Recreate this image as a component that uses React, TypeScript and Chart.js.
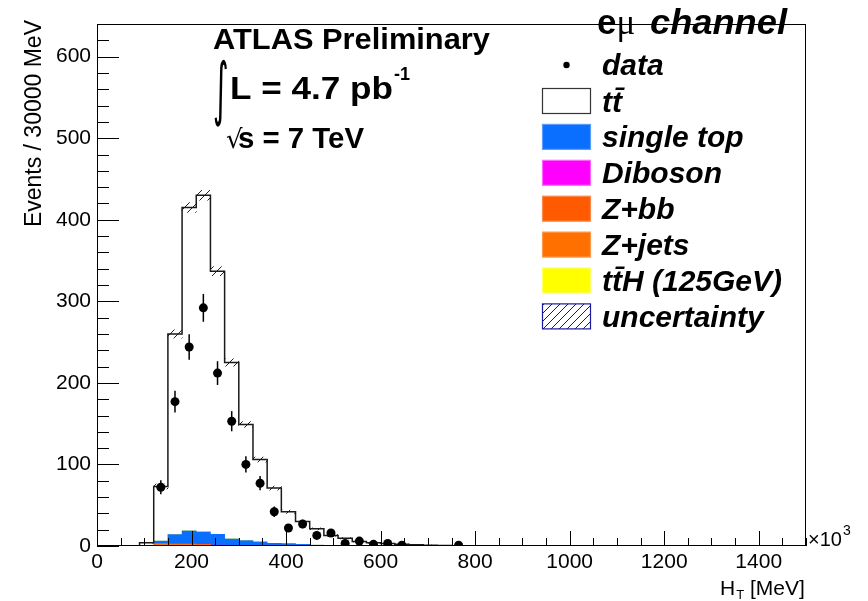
import { useEffect, useRef } from "react";
import { Chart, registerables } from "chart.js";

Chart.register(...registerables);

// ---- axis layout (units of 10^3 MeV) ----
const X_MIN = 0;
const X_MAX = 1500;
const Y_MIN = 0;
const Y_MAX = 640;
const BIN_WIDTH = 30;
const xTickValues = [0, 200, 400, 600, 800, 1000, 1200, 1400];
const yTickValues = [0, 100, 200, 300, 400, 500, 600];
const X_MINOR_STEP = 50;
const Y_MINOR_STEP = 20;

// ---- bins (centres) ----
const binCenters = [
  15, 45, 75, 105, 135, 165, 195, 225, 255, 285, 315, 345, 375, 405, 435, 465, 495, 525, 555, 585,
  615, 645, 675, 705, 735, 765, 795, 825, 855, 885, 915, 945, 975, 1005, 1035, 1065, 1095, 1125,
  1155, 1185, 1215, 1245, 1275, 1305, 1335, 1365, 1395, 1425, 1455, 1485,
];

// ---- series (events per bin; bins beyond the list are empty) ----
const zJets = [0, 0, 0, 0, 2.5, 2, 2, 1.5, 0.5, 0.3];
const zbb = [0, 0, 0, 0, 0.3, 0.4, 0.4, 0.3, 0.2, 0.1];
const diboson = [0, 0, 0, 0, 0.2, 0.3, 0.4, 0.4, 0.3, 0.3, 0.2, 0.2, 0.1, 0.1];
const singleTop = [0, 0, 0, 0, 3.0, 11.3, 15.7, 15.0, 13.3, 7.9, 6.4, 4.8, 3.2, 2.8, 2.0, 1.0, 0.6, 0.4, 0.2, 0.1];
const ttH = [0, 0, 0, 0, 0, 0, 0.1, 0.1, 0.1, 0.1, 0.1, 0.1];
const ttbar = [
  0, 0, 0, 4, 67, 246, 396.4, 412.7, 322.6, 216.3, 142.3, 100.9, 67.7, 39.1, 28, 20, 12.4, 9.1, 5.3,
  3.9, 3, 2, 1.5, 1, 0.5, 0.3, 0.2,
];
const uncertainty = [
  0, 0, 0, 0.5, 3, 5, 6, 6, 5.5, 4.5, 3.5, 3, 2.5, 2, 1.5, 1.2, 1, 0.8, 0.6, 0.5, 0.4, 0.3, 0.3, 0.2, 0.2,
];
const dataCounts = [0, 0, 0, 0, 72, 177, 244, 292, 212, 153, 100, 77, 42, 22, 27, 13, 16, 3, 6, 2, 3, 1, 0, 0, 0, 1];

const COLORS = {
  singleTop: "#0a6eff",
  diboson: "#ff00ff",
  zbb: "#ff5a00",
  zjets: "#ff7000",
  ttH: "#ffff00",
  ttbar: "#ffffff",
  unc: "#1a1aa0",
};

const FONT = '"Liberation Sans", Arial, sans-serif';

const val = (arr: number[], i: number) => (i < arr.length ? arr[i] : 0);

function fitText(ctx: CanvasRenderingContext2D, text: string, x: number, y: number, font: string, width: number) {
  ctx.save();
  ctx.font = font;
  const w = ctx.measureText(text).width;
  ctx.translate(x, y);
  ctx.scale(width / w, 1);
  ctx.fillText(text, 0, 0);
  ctx.restore();
}

function App() {
  const canvasRef = useRef<HTMLCanvasElement | null>(null);

  useEffect(() => {
    const canvas = canvasRef.current;
    if (!canvas) return;
    const ctx0 = canvas.getContext("2d")!;

    // hatch pattern
    const pc = document.createElement("canvas");
    pc.width = 8;
    pc.height = 8;
    const p = pc.getContext("2d")!;
    p.strokeStyle = "#222";
    p.lineWidth = 1;
    p.beginPath();
    p.moveTo(0, 8);
    p.lineTo(8, 0);
    p.moveTo(-1, 1);
    p.lineTo(1, -1);
    p.moveTo(7, 9);
    p.lineTo(9, 7);
    p.stroke();
    const hatch = ctx0.createPattern(pc, "repeat")!;

    const totals = binCenters.map(
      (_, i) =>
        val(zJets, i) + val(zbb, i) + val(diboson, i) + val(singleTop, i) + val(ttH, i) + val(ttbar, i)
    );
    const outline = binCenters.map((c, i) => ({ x: c - BIN_WIDTH / 2, y: totals[i] }));
    outline.push({ x: X_MAX, y: totals[totals.length - 1] });
    const uncBars = binCenters.map((_, i) => {
      const u = val(uncertainty, i);
      return u > 0 ? [totals[i] - u, totals[i] + u] : null;
    });
    const dataPoints = binCenters
      .map((c, i) => ({ x: c, y: val(dataCounts, i) }))
      .filter((d) => d.y > 0);

    const legendItems = [
      { label: "tt\u0304", fill: "#ffffff", border: "#333333", pattern: false },
      { label: "single top", fill: COLORS.singleTop, border: "#5a9cff", pattern: false },
      { label: "Diboson", fill: COLORS.diboson, border: "#ff66ff", pattern: false },
      { label: "Z+bb", fill: COLORS.zbb, border: "#ff8a4d", pattern: false },
      { label: "Z+jets", fill: COLORS.zjets, border: "#ff9a4d", pattern: false },
      { label: "tt\u0304H (125GeV)", fill: COLORS.ttH, border: "#ffff66", pattern: false },
      { label: "uncertainty", fill: "#ffffff", border: COLORS.unc, pattern: true },
    ];

    const decor = {
      id: "decor",
      afterDatasetsDraw(chart: any) {
        const ctx: CanvasRenderingContext2D = chart.ctx;
        const { left, right, top, bottom } = chart.chartArea;
        const xs = chart.scales.xl;
        const ys = chart.scales.y;
        ctx.save();
        // error bars
        ctx.strokeStyle = "#000";
        ctx.lineWidth = 1.5;
        dataPoints.forEach((d) => {
          const e = Math.sqrt(d.y);
          const x = xs.getPixelForValue(d.x);
          ctx.beginPath();
          ctx.moveTo(x, ys.getPixelForValue(d.y + e));
          ctx.lineTo(x, ys.getPixelForValue(Math.max(0, d.y - e)));
          ctx.stroke();
        });
        // ticks (inside frame)
        ctx.lineWidth = 1;
        ctx.strokeStyle = "#000";
        ctx.beginPath();
        for (let v = Y_MIN; v <= Y_MAX; v += Y_MINOR_STEP) {
          const y = Math.round(ys.getPixelForValue(v)) + 0.5;
          const len = yTickValues.includes(v) ? 22 : 12;
          ctx.moveTo(left, y);
          ctx.lineTo(left + len, y);
        }
        for (let v = X_MIN; v <= X_MAX; v += X_MINOR_STEP) {
          const x = Math.round(xs.getPixelForValue(v)) + 0.5;
          const len = xTickValues.includes(v) ? 15 : 8;
          ctx.moveTo(x, bottom);
          ctx.lineTo(x, bottom - len);
        }
        ctx.stroke();
        // frame
        ctx.strokeRect(Math.round(left) + 0.5, Math.round(top) + 0.5, Math.round(right - left) - 1, Math.round(bottom - top) - 1);
        ctx.restore();
      },
      afterDraw(chart: any) {
        const ctx: CanvasRenderingContext2D = chart.ctx;
        ctx.save();
        ctx.fillStyle = "#000";
        ctx.textBaseline = "alphabetic";
        ctx.textAlign = "left";

        // y title
        ctx.save();
        ctx.translate(41, 20);
        ctx.rotate(-Math.PI / 2);
        ctx.textAlign = "right";
        ctx.font = `23px ${FONT}`;
        ctx.fillText("Events / 30000 MeV", 0, 0);
        ctx.restore();

        // x title
        ctx.font = `21px ${FONT}`;
        ctx.fillText("H", 720, 595);
        const hw = ctx.measureText("H").width;
        ctx.font = `13px ${FONT}`;
        ctx.fillText("T", 720 + hw + 1, 599);
        const tw = ctx.measureText("T").width;
        ctx.font = `21px ${FONT}`;
        ctx.fillText(" [MeV]", 720 + hw + tw + 1, 595);

        // x10^3
        ctx.font = `20px ${FONT}`;
        ctx.fillText("\u00d710", 808, 546);
        const xw = ctx.measureText("\u00d710").width;
        ctx.font = `14px ${FONT}`;
        ctx.fillText("3", 808 + xw + 1, 535);

        // ATLAS text
        fitText(ctx, "ATLAS Preliminary", 213, 49, `bold 30px ${FONT}`, 277);

        ctx.save();
        ctx.translate(213, 112);
        ctx.scale(1, 2.3);
        ctx.font = `30px "DejaVu Sans"`;
        ctx.fillText("\u222b", 0, 0);
        ctx.restore();

        fitText(ctx, "L = 4.7 pb", 230, 99, `bold 31px ${FONT}`, 163);
        ctx.font = `bold 18px ${FONT}`;
        ctx.fillText("-1", 394, 80);

        ctx.font = `26px "DejaVu Sans"`;
        ctx.fillText("\u221a", 226, 148);
        fitText(ctx, "s = 7 TeV", 238, 148, `bold 29px ${FONT}`, 126);

        // legend header
        ctx.font = `bold 35px ${FONT}`;
        ctx.fillText("e", 597, 34);
        const ew = ctx.measureText("e").width;
        ctx.font = `35px "Liberation Serif"`;
        ctx.fillText("\u03bc", 597 + ew, 34);
        fitText(ctx, "channel", 650, 34, `italic bold 35px ${FONT}`, 137);

        // data entry
        ctx.beginPath();
        ctx.arc(566.5, 65, 3.2, 0, Math.PI * 2);
        ctx.fill();
        ctx.font = `italic bold 30px ${FONT}`;
        ctx.fillText("data", 602, 75);

        legendItems.forEach((it, i) => {
          const by = 88.5 + 35.9 * i;
          const bx = 542.5;
          ctx.fillStyle = it.fill;
          ctx.fillRect(bx, by, 48, 25);
          if (it.pattern) {
            ctx.fillStyle = hatch;
            ctx.fillRect(bx, by, 48, 25);
          }
          ctx.strokeStyle = it.border;
          ctx.lineWidth = 1.2;
          ctx.strokeRect(bx, by, 48, 25);
          ctx.fillStyle = "#000";
          ctx.font = `italic bold 30px ${FONT}`;
          ctx.fillText(it.label, 602, by + 23);
        });
        ctx.restore();
      },
    };

    const barCommon = {
      type: "bar" as const,
      xAxisID: "x",
      yAxisID: "y",
      stack: "mc",
      grouped: false,
      borderWidth: 0,
      barPercentage: 1,
      categoryPercentage: 1,
      order: 3,
    };

    const chart = new Chart(canvas, {
      type: "bar",
      data: {
        labels: binCenters.map(String),
        datasets: [
          {
            type: "scatter",
            label: "data",
            data: dataPoints,
            xAxisID: "xl",
            yAxisID: "y",
            pointRadius: 4.5,
            pointBackgroundColor: "#000",
            pointBorderWidth: 0,
            order: 0,
          } as any,
          {
            type: "line",
            label: "total",
            data: outline,
            xAxisID: "xl",
            yAxisID: "y",
            stepped: "before",
            borderColor: "#1a1a1a",
            borderWidth: 1.5,
            pointRadius: 0,
            fill: false,
            order: 1,
          } as any,
          {
            type: "bar",
            label: "uncertainty",
            data: uncBars,
            xAxisID: "x",
            yAxisID: "y",
            stack: "unc",
            grouped: false,
            backgroundColor: hatch,
            borderWidth: 0,
            barPercentage: 1,
            categoryPercentage: 1,
            order: 2,
          } as any,
          { ...barCommon, label: "Z+jets", data: binCenters.map((_, i) => val(zJets, i)), backgroundColor: COLORS.zjets },
          { ...barCommon, label: "Z+bb", data: binCenters.map((_, i) => val(zbb, i)), backgroundColor: COLORS.zbb },
          { ...barCommon, label: "Diboson", data: binCenters.map((_, i) => val(diboson, i)), backgroundColor: COLORS.diboson },
          { ...barCommon, label: "single top", data: binCenters.map((_, i) => val(singleTop, i)), backgroundColor: COLORS.singleTop },
          { ...barCommon, label: "ttH", data: binCenters.map((_, i) => val(ttH, i)), backgroundColor: COLORS.ttH },
          { ...barCommon, label: "ttbar", data: binCenters.map((_, i) => val(ttbar, i)), backgroundColor: COLORS.ttbar },
        ] as any,
      },
      options: {
        animation: false,
        responsive: false,
        devicePixelRatio: 1,
        layout: { padding: { top: 24, right: 62, left: 0, bottom: 0 } },
        plugins: { legend: { display: false }, tooltip: { enabled: false } },
        scales: {
          x: { type: "category", display: false, offset: true, stacked: true },
          xl: {
            type: "linear",
            position: "bottom",
            offset: false,
            min: X_MIN,
            max: X_MAX,
            grid: { display: false, drawTicks: false, offset: false },
            border: { display: false },
            ticks: {
              font: { family: FONT, size: 21 },
              color: "#000",
              padding: 4,
              maxRotation: 0,
              autoSkip: false,
              callback: (v: any) => String(v),
            },
            afterBuildTicks: (s: any) => {
              s.ticks = xTickValues.map((v) => ({ value: v }));
            },
            afterFit: (s: any) => {
              s.height = 55;
            },
          },
          y: {
            type: "linear",
            position: "left",
            min: Y_MIN,
            max: Y_MAX,
            stacked: true,
            grid: { display: false, drawTicks: false },
            border: { display: false },
            ticks: { font: { family: FONT, size: 21 }, color: "#000", padding: 6 },
            afterBuildTicks: (s: any) => {
              s.ticks = yTickValues.map((v) => ({ value: v }));
            },
            afterFit: (s: any) => {
              s.width = 97;
            },
          },
        },
      } as any,
      plugins: [decor],
    });

    return () => chart.destroy();
  }, []);

  return (
    <div style={{ position: "absolute", left: 0, top: 0, width: 868, height: 601, background: "#fff" }}>
      <canvas ref={canvasRef} width={868} height={601} style={{ display: "block" }} />
    </div>
  );
}

export default App;
